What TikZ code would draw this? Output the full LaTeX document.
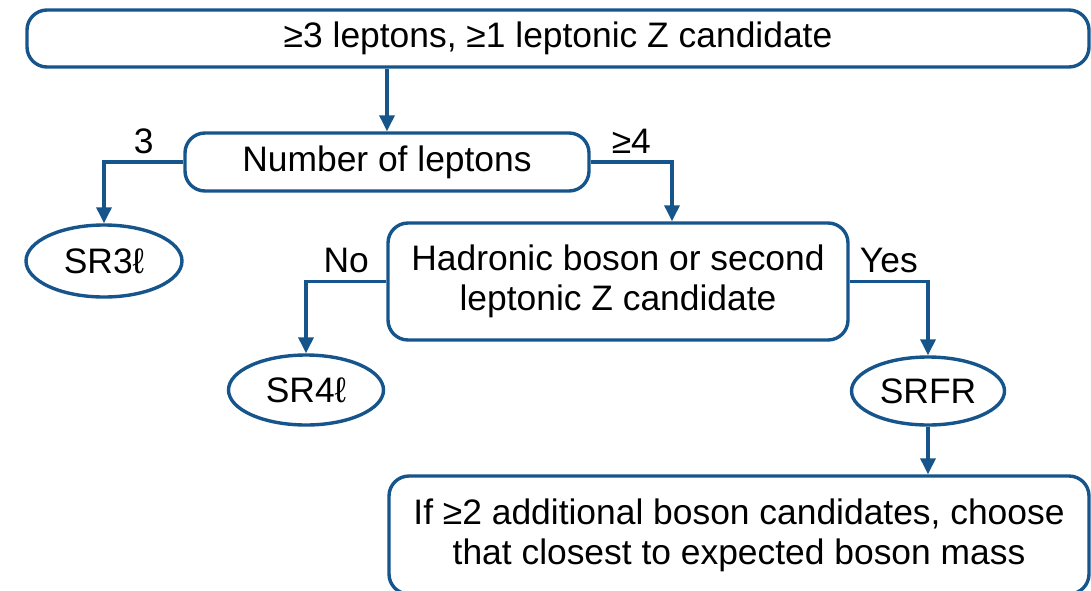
\documentclass[tikz,border=0pt]{standalone}
\usepackage{fontspec}
\setmainfont{Liberation Sans}
\usetikzlibrary{positioning,arrows.meta,calc,shapes.geometric}
\definecolor{flowblue}{RGB}{22,84,140}

\begin{document}
\begin{tikzpicture}[x=0.5pt, y=-0.5pt, >={Triangle[length=8pt,width=7.5pt]},
  every node/.style={font=\fontsize{17.7}{20}\selectfont},
  box/.style={draw=flowblue, line width=1.7pt, rounded corners=10pt, fill=white, align=center, inner sep=0pt},
  oval/.style={draw=flowblue, line width=1.7pt, ellipse, fill=white, inner sep=0pt},
  link/.style={->, draw=flowblue, line width=1.7pt}]
  \useasboundingbox (0,0) rectangle (1091,590);
  \clip (0,0) rectangle (1091,590);
  \node[box, minimum width=531pt, minimum height=28.5pt] (top) at (558,38.5) {≥3 leptons, ≥1 leptonic Z candidate};
  \node[box, minimum width=202pt, minimum height=29pt] (num) at (387,162) {Number of leptons};
  \node[oval, minimum width=78pt, minimum height=36pt] (sr3) at (104,261) {SR3ℓ};
  \node[box, minimum width=230pt, minimum height=58.5pt] (had) at (618,281.5) {Hadronic boson or second\\leptonic Z candidate};
  \node[oval, minimum width=77.5pt, minimum height=35pt] (sr4) at (306,390) {SR4ℓ};
  \node[oval, minimum width=76.5pt, minimum height=34pt] (srfr) at (928,391) {SRFR};
  \node[box, minimum width=350pt, minimum height=59pt] (fin) at (739,535) {If ≥2 additional boson candidates, choose\\that closest to expected boson mass};
  \draw[link] (num.north |- top.south) -- (num.north);
  \draw[link] (num.west) -| node[pos=0.25, above] (lthree) {3} (sr3.north);
  \draw[link] (num.east) -| node[pos=0.25, above] (lfour) {≥4} ([xshift=27pt]had.north);
  \draw[link] (had.west) -| node[pos=0.25, above] (lno) {No} (sr4.north);
  \draw[link] (had.east) -| node[pos=0.25, above] (lyes) {Yes} (srfr.north);
  \draw[link] (srfr.south) -- (srfr.south |- fin.north);
\end{tikzpicture}
\end{document}
